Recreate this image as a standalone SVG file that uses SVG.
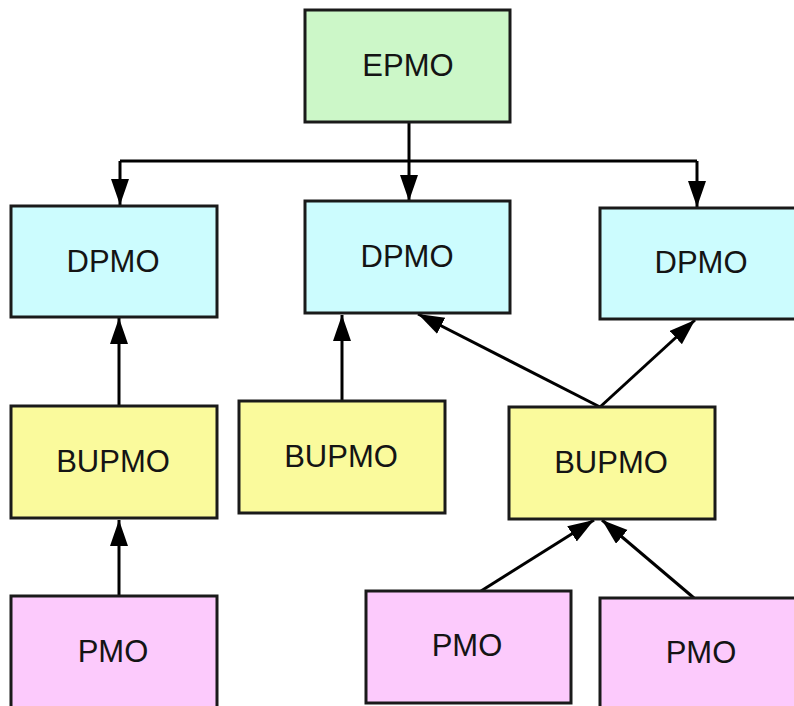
<svg xmlns="http://www.w3.org/2000/svg" width="794" height="706" viewBox="0 0 794 706">
<style>
.box{stroke:#1a1a1a;stroke-width:3}
.g{fill:#ccf7c8}
.c{fill:#ccfcfe}
.y{fill:#fafa9c}
.p{fill:#fccafc}
text{font-family:"Liberation Sans",Arial,sans-serif;font-size:31px;fill:#141414;text-anchor:middle}
.ln{stroke:#000;stroke-width:3;fill:none;marker-end:url(#ah)}
</style>
<defs>
<marker id="ah" markerUnits="userSpaceOnUse" markerWidth="28" markerHeight="20" refX="26" refY="9" orient="auto">
<path d="M0,0 L26,9 L0,18 z" fill="#000"/>
</marker>
</defs>
<rect width="794" height="706" fill="#fff"/>
<g id="connectors">
<path class="ln" d="M409,122 V201"/>
<path d="M120,161 H697" stroke="#000" stroke-width="3" fill="none"/>
<path class="ln" d="M120,161 V205"/>
<path class="ln" d="M697,161 V207"/>
<path class="ln" d="M119,406 V318"/>
<path class="ln" d="M342,401 V315"/>
<path class="ln" d="M600,407 L418,314"/>
<path class="ln" d="M600,407 L695,320"/>
<path class="ln" d="M119,596 V520"/>
<path class="ln" d="M481,591 L594,520"/>
<path class="ln" d="M694,598 L602,520"/>
</g>
<g id="epmo"><rect class="box g" x="305" y="10" width="205" height="112"/><text x="408" y="76">EPMO</text></g>
<g id="dpmo1"><rect class="box c" x="11" y="206" width="206" height="111"/><text x="113" y="272">DPMO</text></g>
<g id="dpmo2"><rect class="box c" x="305" y="201" width="205" height="112"/><text x="407" y="267">DPMO</text></g>
<g id="dpmo3"><rect class="box c" x="600" y="208" width="210" height="111"/><text x="701" y="273">DPMO</text></g>
<g id="bupmo1"><rect class="box y" x="11" y="406" width="206" height="112"/><text x="113" y="472">BUPMO</text></g>
<g id="bupmo2"><rect class="box y" x="239" y="401" width="206" height="112"/><text x="341" y="467">BUPMO</text></g>
<g id="bupmo3"><rect class="box y" x="509" y="407" width="206" height="112"/><text x="611" y="473">BUPMO</text></g>
<g id="pmo1"><rect class="box p" x="11" y="596" width="206" height="120"/><text x="113" y="662">PMO</text></g>
<g id="pmo2"><rect class="box p" x="366" y="591" width="205" height="112"/><text x="467" y="656">PMO</text></g>
<g id="pmo3"><rect class="box p" x="600" y="598" width="210" height="120"/><text x="701" y="663">PMO</text></g>
</svg>
